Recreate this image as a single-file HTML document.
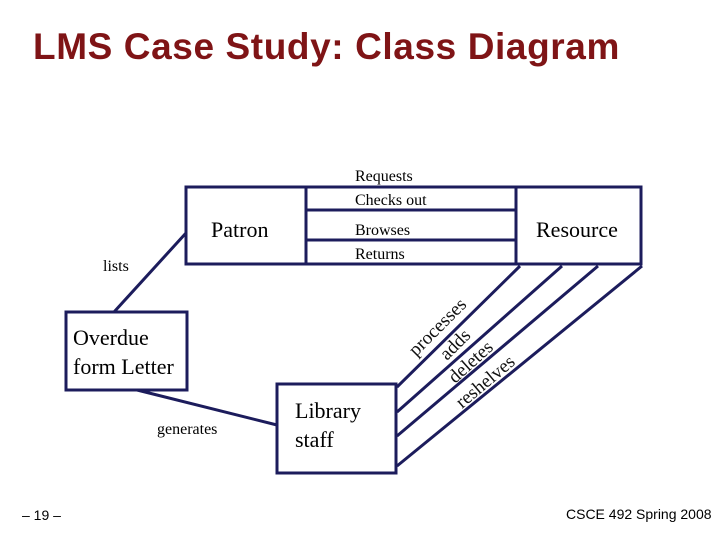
<!DOCTYPE html>
<html><head><style>
body{margin:0;width:720px;height:540px;background:#fff;position:relative;overflow:hidden;font-family:"Liberation Serif",serif}
.t{position:absolute;white-space:nowrap}
</style></head><body>
<div class="t" style="left:33px;top:26px;font:bold 37px 'Liberation Sans',sans-serif;color:#7f1416;letter-spacing:0.6px">LMS Case Study: Class Diagram</div>
<svg width="720" height="540" style="position:absolute;left:0;top:0">
<g stroke="#1c1c5c" stroke-width="3" fill="none">
<rect x="186" y="187" width="120" height="77"/>
<rect x="516" y="187" width="125" height="77"/>
<rect x="66" y="312" width="121" height="78"/>
<rect x="277" y="384" width="119" height="89"/>
<line x1="306" y1="187" x2="516" y2="187"/>
<line x1="306" y1="264" x2="516" y2="264"/>
<line x1="306" y1="210" x2="516" y2="210"/>
<line x1="306" y1="240" x2="516" y2="240"/>
<line x1="397" y1="387" x2="520" y2="266"/>
<line x1="397" y1="412" x2="562" y2="266"/>
<line x1="397" y1="436" x2="598" y2="266"/>
<line x1="397" y1="466" x2="642" y2="266"/>
<line x1="114" y1="312" x2="186" y2="233"/>
<line x1="137" y1="390" x2="277" y2="425"/>
</g>
<g font-family="Liberation Serif,serif" font-size="19" fill="#111">
<text x="416" y="357" transform="rotate(-45 416 357)">processes</text>
<text x="447" y="361" transform="rotate(-45 447 361)">adds</text>
<text x="455" y="384" transform="rotate(-42 455 384)">deletes</text>
<text x="462" y="409" transform="rotate(-40 462 409)">reshelves</text>
</g>
</svg>
<div class="t" style="left:355px;top:168px;font-size:16px">Requests</div>
<div class="t" style="left:355px;top:192px;font-size:16px">Checks out</div>
<div class="t" style="left:355px;top:222px;font-size:16px">Browses</div>
<div class="t" style="left:355px;top:246px;font-size:16px">Returns</div>
<div class="t" style="left:211px;top:217px;font-size:22px">Patron</div>
<div class="t" style="left:536px;top:217px;font-size:22px">Resource</div>
<div class="t" style="left:103px;top:258px;font-size:16px">lists</div>
<div class="t" style="left:73px;top:323px;font-size:22px;line-height:29px">Overdue<br>form Letter</div>
<div class="t" style="left:157px;top:421px;font-size:16px">generates</div>
<div class="t" style="left:295px;top:396px;font-size:22px;line-height:29px">Library<br>staff</div>
<div class="t" style="left:22px;top:507px;font:14px 'Liberation Sans',sans-serif">– 19 –</div>
<div class="t" style="left:566px;top:506px;font:14px 'Liberation Sans',sans-serif">CSCE 492 Spring 2008</div>
</body></html>
